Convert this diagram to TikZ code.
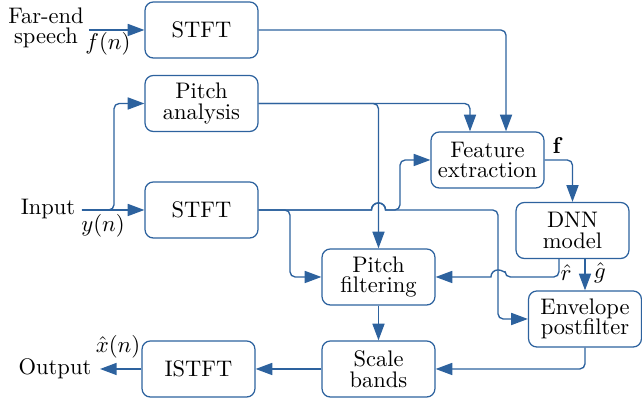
\documentclass[tikz,border=0pt]{standalone}
\usetikzlibrary{arrows.meta,calc}
\definecolor{lc}{RGB}{45,98,158}
\begin{document}
\begin{tikzpicture}[x=0.48pt,y=-0.48pt,
  box/.style={draw=lc,line width=0.6pt,rounded corners=4pt,minimum width=54.2pt,minimum height=26.9pt,inner sep=0pt,align=center,font=\fontsize{10.8pt}{9.8pt}\selectfont},
  lbl/.style={inner sep=0pt,align=center,font=\fontsize{10.8pt}{9.8pt}\selectfont},
  conn/.style={draw=lc,line width=0.65pt,-{Triangle[length=8pt,width=5.8pt]}},
  rc/.style={rounded corners=2.5pt}]
\useasboundingbox (0,0) rectangle (642,398);
% boxes
\node[box] (stft1) at (201.5,30) {STFT};
\node[box] (pa) at (201.5,103.5) {Pitch\\analysis};
\node[box] (stft2) at (201.5,210) {STFT};
\node[box] (fe) at (487.5,160) {Feature\\extraction};
\node[box] (dnn) at (572.5,230.5) {DNN\\model};
\node[box] (env) at (585,319) {Envelope\\postfilter};
\node[box] (pf) at (378.5,277) {Pitch\\filtering};
\node[box] (sb) at (378.5,369) {Scale\\bands};
\node[box] (istft) at (198.5,369) {ISTFT};
% labels
\node[lbl] (far) at (46,28) {Far-end\\speech};
\node[lbl] (fn) at (108,44) {$f(n)$};
\node[lbl] (inp) at (48,209) {Input};
\node[lbl] (yn) at (103,226) {$y(n)$};
\node[lbl] (outp) at (55,369) {Output};
\node[lbl] (xn) at (118,347) {$\hat{x}(n)$};
\node[lbl] (fl) at (558,146) {$\mathbf{f}$};
\node[lbl] (rl) at (566,273) {$\hat{r}$};
\node[lbl] (gl) at (600,273) {$\hat{g}$};
% helper coordinates
\coordinate (farin) at (89,30);
\coordinate (inin) at (82,210);
\coordinate (outend) at (100,369);
\coordinate (l114) at (114,0);
\coordinate (l290) at (290,0);
\coordinate (l400) at (400,0);
\coordinate (l498) at (498,0);
\coordinate (hopA) at (pf.north |- stft2.east);
\coordinate (hopB) at (l498 |- pf.east);
% connectors
\draw[conn] (farin) -- (stft1.west);
\draw[conn] (inin) -- (stft2.west);
\draw[conn,rc] (inin) -| (l114 |- pa.west) -- (pa.west);
\draw[conn,rc] (stft1.east) -| ([xshift=8.9pt]fe.north);
\draw[conn,rc] (pa.east) -| ([xshift=-8.4pt]fe.north);
\draw[conn,rc] (pa.east) -| (pf.north);
\draw[conn,rc] (stft2.east) -| (l290 |- pf.west) -- (pf.west);
\draw[conn] (stft2.east) -- ([xshift=-3.4pt]hopA) arc[start angle=180,end angle=0,radius=3.4pt] [rc] -| (l400 |- fe.west) -- (fe.west);
\draw[conn] (stft2.east) -- ([xshift=-3.4pt]hopA) arc[start angle=180,end angle=0,radius=3.4pt] [rc] -| (l498 |- env.west) -- (env.west);
\draw[conn,rc] (fe.east) -| (dnn.north);
\draw[conn] ([xshift=-6.5pt]dnn.south) [rc] |- ([xshift=3.4pt]hopB) [sharp corners] arc[start angle=0,end angle=180,radius=3.4pt] -- (pf.east);
\draw[conn] (env.north |- dnn.south) -- (env.north);
\draw[conn,rc] (env.south) |- (sb.east);
\draw[conn] (pf.south) -- (sb.north);
\draw[conn] (sb.west) -- (istft.east);
\draw[conn] (istft.west) -- (outend);
\end{tikzpicture}
\end{document}
